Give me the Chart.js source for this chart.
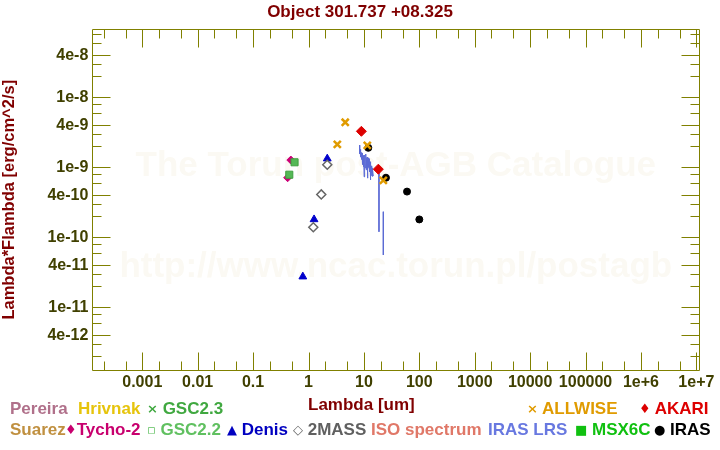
<!DOCTYPE html>
<html>
<head>
<meta charset="utf-8">
<script src="https://cdn.jsdelivr.net/npm/chart.js@4/dist/chart.umd.min.js"></script>
<style>
  body { margin: 0; background: #fff; }
  #wrap { position: relative; width: 720px; height: 450px; }
  #legend span { position: absolute; font: bold 17px "Liberation Sans", Arial, sans-serif; white-space: nowrap; line-height: 20px; }
  #legend i { font-style: normal; font-size: 13px; vertical-align: 1px; font-family: "DejaVu Sans", sans-serif; font-weight: bold; }
</style>
</head>
<body>
<div id="wrap">
  <canvas id="sed" width="720" height="450"></canvas>
  <div id="legend">
    <span style="left:10px;top:399px;color:#b0708a">Pereira</span>
    <span style="left:78px;top:399px;color:#e6c40c">Hrivnak</span>
    <span style="left:147px;top:399px;color:#40a840"><i>×</i> GSC2.3</span>
    <span style="left:308px;top:395px;color:#800000">Lambda [um]</span>
    <span style="left:527px;top:399px;color:#e09b00"><i>×</i> ALLWISE</span>
    <span style="left:639px;top:399px;color:#dd0000"><i>♦</i> AKARI</span>

    <span style="left:10px;top:420px;color:#c09040">Suarez</span>
    <span style="left:65px;top:420px;color:#c8006e"><i>♦</i>Tycho-2</span>
    <span style="left:147px;top:420px;color:#60c060"><i>▫</i> GSC2.2</span>
    <span style="left:227px;top:420px;color:#0000c0"><i>▲</i> Denis</span>
    <span style="left:293px;top:420px;color:#606060"><i>◇</i> 2MASS</span>
    <span style="left:371px;top:420px;color:#e07868">ISO spectrum</span>
    <span style="left:488px;top:420px;color:#6878e0">IRAS LRS</span>
    <span style="left:575px;top:420px;color:#10c010"><i>■</i> MSX6C</span>
    <span style="left:654px;top:420px;color:#000"><i>●</i> IRAS</span>
  </div>
</div>
<script>
// Titre et axes
const chartTitle = "Object 301.737 +08.325";
const xTitle = "Lambda [um]";
const yTitle = "Lambda*Flambda [erg/cm^2/s]";

const xTickValues = [0.001, 0.01, 0.1, 1, 10, 100, 1000, 10000, 100000, 1e6, 1e7];
const xTickLabels = ["0.001", "0.01", "0.1", "1", "10", "100", "1000", "10000", "100000", "1e+6", "1e+7"];
const yTickValues = [4e-12, 1e-11, 4e-11, 1e-10, 4e-10, 1e-9, 4e-9, 1e-8, 4e-8];
const yTickLabels = ["4e-12", "1e-11", "4e-11", "1e-10", "4e-10", "1e-9", "4e-9", "1e-8", "4e-8"];
const xMinorSteps = [2, 5];
const yMajorSteps = [1, 4];
const yMinorSteps = [2, 3, 6, 8];

// Photométrie : longueur d'onde (um) et lambda*F_lambda (erg/cm2/s)
const tychoWave = [0.48, 0.42];
const tychoFlux = [1.27e-9, 7.1e-10];
const gsc22Wave = [0.56, 0.45];
const gsc22Flux = [1.18e-9, 7.84e-10];
const denisWave = [0.79, 1.26, 2.18];
const denisFlux = [2.74e-11, 1.8e-10, 1.33e-9];
const twomassWave = [1.22, 1.70, 2.18];
const twomassFlux = [1.39e-10, 4.1e-10, 1.09e-9];
const allwiseWave = [3.31, 4.6, 11.5, 22.4];
const allwiseFlux = [2.13e-9, 4.4e-9, 2.06e-9, 6.5e-10];
const akariWave = [9.0, 18.2];
const akariFlux = [3.27e-9, 9.4e-10];
const irasWave = [12, 25, 60, 100];
const irasFlux = [1.9e-9, 7.1e-10, 4.5e-10, 1.8e-10];

// Spectre IRAS LRS (null = coupure de la ligne)
const lrsWave = [8.32, 8.41, 8.50, 8.60, 8.68, 8.86, 9.05, 9.14, 9.24, 9.34, 9.43, 9.53, 9.63, 9.73, 9.83, 9.92,
  10.0, 10.1, 10.2, 10.3, 10.4, 10.55, 10.7, 10.8, 10.9, 11.0, 11.1, 11.25, 11.4, 11.55, 11.7, 11.85,
  12.0, 12.2, 12.4, 12.5, 12.6, 12.75, 12.9, 13.0, 13.1, 13.25, 13.4, 13.55, 13.7, 13.9, 14.0, 14.2, 14.4, 14.8,
  16.5, 18.7, 18.7, 20.5, 22.4, 22.4];
const lrsFlux = [2.08e-9, 1.55e-9, 1.80e-9, 1.45e-9, 1.70e-9, 1.40e-9, 1.62e-9, 1.30e-9, 1.58e-9, 1.20e-9, 1.52e-9, 1.10e-9, 1.48e-9, 1.02e-9, 1.42e-9, 1.15e-9,
  1.45e-9, 7.3e-10, 1.38e-9, 1.05e-9, 1.50e-9, 9.8e-10, 1.42e-9, 1.10e-9, 1.55e-9, 9.2e-10, 1.35e-9, 1.0e-9, 1.40e-9, 7.0e-10, 1.30e-9, 9.6e-10,
  1.36e-9, 1.0e-9, 1.32e-9, 8.6e-10, 1.25e-9, 9.0e-10, 1.20e-9, 6.6e-10, 1.15e-9, 8.8e-10, 1.10e-9, 7.6e-10, 1.05e-9, 8.4e-10, 9.8e-10, 7.4e-10, 9.2e-10, 7.5e-10,
  null, 1.02e-9, 1.20e-10, null, 2.32e-10, 5.59e-11];

const FONT = '"Liberation Sans", Arial, sans-serif';
const AXIS_COLOR = '#808000';
const TICK_COLOR = '#404000';

function pts(xs, ys) {
  return xs.map((x, i) => ({ x: x, y: ys[i] }));
}

function labelFor(values, labels, v) {
  const i = values.findIndex(t => Math.abs(Math.log10(t) - Math.log10(v)) < 1e-6);
  return i >= 0 ? labels[i] : '';
}

// Filigrane du catalogue
const watermarkPlugin = {
  id: 'watermark',
  beforeDatasetsDraw(chart) {
    const { ctx, chartArea } = chart;
    const cx = (chartArea.left + chartArea.right) / 2;
    ctx.save();
    ctx.fillStyle = '#fbf9f3';
    ctx.font = 'bold 35px ' + FONT;
    ctx.textAlign = 'center';
    ctx.textBaseline = 'alphabetic';
    ctx.fillText('The Torun post-AGB Catalogue', cx, 176);
    ctx.fillText('http://www.ncac.torun.pl/postagb', cx, 277);
    ctx.restore();
  }
};

// Cadre et graduations vers l'intérieur
const framePlugin = {
  id: 'frame',
  afterDatasetsDraw(chart) {
    const { ctx, chartArea } = chart;
    const xs = chart.scales.x, ys = chart.scales.y;
    const L = Math.round(chartArea.left) + 0.5, R = Math.round(chartArea.right) + 0.5;
    const T = Math.round(chartArea.top) + 0.5, B = Math.round(chartArea.bottom) + 0.5;
    ctx.save();
    ctx.strokeStyle = AXIS_COLOR;
    ctx.lineWidth = 1;
    ctx.beginPath();
    ctx.rect(L, T, R - L, B - T);
    for (let d = -5; d <= 8; d++) {
      [1].concat(xMinorSteps).forEach(m => {
        const v = m * Math.pow(10, d);
        const p = Math.round(xs.getPixelForValue(v)) + 0.5;
        if (p <= L || p >= R) return;
        const len = m === 1 ? 18 : 9;
        ctx.moveTo(p, B); ctx.lineTo(p, B - len);
        ctx.moveTo(p, T); ctx.lineTo(p, T + len);
      });
    }
    for (let d = -13; d <= -6; d++) {
      yMajorSteps.concat(yMinorSteps).forEach(m => {
        const v = m * Math.pow(10, d);
        const p = Math.round(ys.getPixelForValue(v)) + 0.5;
        if (p <= T || p >= B) return;
        const len = yMajorSteps.includes(m) ? 18 : 9;
        ctx.moveTo(L, p); ctx.lineTo(L + len, p);
        ctx.moveTo(R, p); ctx.lineTo(R - len, p);
      });
    }
    ctx.stroke();
    ctx.restore();
  }
};

const sedChart = new Chart(document.getElementById('sed'), {
  type: 'scatter',
  data: {
    datasets: [
      {
        label: 'IRAS LRS', data: pts(lrsWave, lrsFlux), showLine: true, spanGaps: false,
        borderColor: '#5b6bd5', borderWidth: 1, pointRadius: 0, order: 10
      },
      {
        label: 'Tycho-2', data: pts(tychoWave, tychoFlux), pointStyle: 'rectRot', pointRadius: 4,
        backgroundColor: '#cc0077', borderColor: '#cc0077', borderWidth: 1, order: 9
      },
      {
        label: 'GSC2.2', data: pts(gsc22Wave, gsc22Flux), pointStyle: 'rect', pointRadius: 5,
        backgroundColor: '#55b855', borderColor: '#3f9f3f', borderWidth: 1, order: 8
      },
      {
        label: 'Denis', data: pts(denisWave, denisFlux), pointStyle: 'triangle', pointRadius: 4.5,
        backgroundColor: '#0000cc', borderColor: '#0000cc', borderWidth: 1, order: 7
      },
      {
        label: '2MASS', data: pts(twomassWave, twomassFlux), pointStyle: 'rectRot', pointRadius: 4.5,
        backgroundColor: '#ffffff', borderColor: '#666666', borderWidth: 1.5, order: 6
      },
      {
        label: 'IRAS', data: pts(irasWave, irasFlux), pointStyle: 'circle', pointRadius: 3.5,
        backgroundColor: '#000000', borderColor: '#000000', borderWidth: 1, order: 5
      },
      {
        label: 'AKARI', data: pts(akariWave, akariFlux), pointStyle: 'rectRot', pointRadius: 5,
        backgroundColor: '#dd0000', borderColor: '#dd0000', borderWidth: 1, order: 4
      },
      {
        label: 'ALLWISE', data: pts(allwiseWave, allwiseFlux), pointStyle: 'crossRot', pointRadius: 5,
        backgroundColor: '#e09b00', borderColor: '#e09b00', borderWidth: 2.5, order: 3
      }
    ]
  },
  options: {
    responsive: false,
    animation: false,
    devicePixelRatio: 1,
    layout: { padding: 0 },
    plugins: {
      legend: { display: false },
      tooltip: { enabled: false },
      title: {
        display: true, text: chartTitle, color: '#800000',
        font: { family: FONT, size: 17, weight: 'bold' },
        padding: { top: 2, bottom: 7 }
      }
    },
    scales: {
      x: {
        type: 'logarithmic', position: 'bottom',
        min: 1.253e-4, max: 1.13e7,
        grid: { display: false, drawTicks: false }, border: { display: false },
        title: { display: false, text: xTitle },
        ticks: {
          autoSkip: false, maxRotation: 0, padding: 3, color: TICK_COLOR,
          font: { family: FONT, size: 16, weight: 'bold' },
          callback: v => labelFor(xTickValues, xTickLabels, v)
        },
        afterBuildTicks: s => { s.ticks = xTickValues.map(v => ({ value: v })); },
        afterFit: s => { s.height = 80; }
      },
      y: {
        type: 'logarithmic', position: 'left',
        min: 1.27e-12, max: 9.35e-8,
        grid: { display: false, drawTicks: false }, border: { display: false },
        title: {
          display: true, text: yTitle, color: '#800000',
          font: { family: FONT, size: 16.5, weight: 'bold' }, padding: { top: 0, bottom: 0 }
        },
        ticks: {
          autoSkip: false, padding: 4, color: TICK_COLOR,
          font: { family: FONT, size: 16, weight: 'bold' },
          callback: v => labelFor(yTickValues, yTickLabels, v)
        },
        afterBuildTicks: s => { s.ticks = yTickValues.map(v => ({ value: v })); },
        afterFit: s => { s.width = 92.3; }
      },
      // marge droite vide pour centrer le titre comme la référence
      yRight: {
        type: 'linear', position: 'right', display: true,
        grid: { display: false, drawTicks: false }, border: { display: false },
        ticks: { display: false },
        afterFit: s => { s.width = 20.7; }
      }
    }
  },
  plugins: [watermarkPlugin, framePlugin]
});
</script>
</body>
</html>
